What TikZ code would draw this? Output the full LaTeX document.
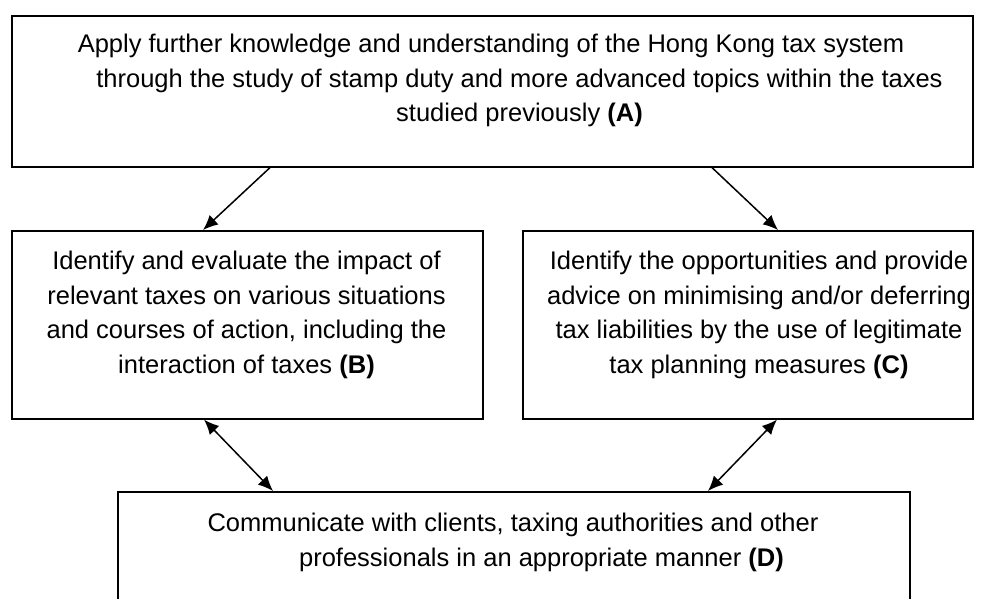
\documentclass[tikz,border=0pt]{standalone}
\usepackage{fontspec}
\setmainfont{Liberation Sans}
\usetikzlibrary{arrows.meta}
\newcommand{\shiftline}{\hspace*{57pt}}
\tikzset{
  aimbox/.style={draw=black, line width=1.6pt, rectangle, inner sep=0pt, anchor=north west},
  aimtext/.style={inner sep=0pt, anchor=north, align=center, font=\fontsize{25.5}{34.5}\selectfont},
  aimarrow/.style={line width=1.5pt, -{Latex[length=15pt,width=13pt]}},
  aimboth/.style={line width=1.5pt, {Latex[length=15pt,width=13pt]}-{Latex[length=15pt,width=13pt]}}
}
\begin{document}
\begin{tikzpicture}[x=1pt, y=-1pt]
\useasboundingbox (0,0) rectangle (985,599);
% boxes
\node[aimbox, minimum width=961pt, minimum height=151pt] (boxA) at (11,15) {};
\node[aimbox, minimum width=471pt, minimum height=188pt] (boxB) at (11,230) {};
\node[aimbox, minimum width=450pt, minimum height=188pt] (boxC) at (522,230) {};
\node[aimbox, minimum width=792pt, minimum height=112pt] (boxD) at (117,491) {};
% texts
\node[aimtext] (txtA) at (491,34) {Apply further knowledge and understanding of the Hong Kong tax system\\
  \shiftline through the study of stamp duty and more advanced topics within the taxes\\
  \shiftline studied previously \textbf{(A)}};
\node[aimtext] (txtB) at (246.5,251) {Identify and evaluate the impact of\\
  relevant taxes on various situations\\
  and courses of action, including the\\
  interaction of taxes \textbf{(B)}};
\node[aimtext] (txtC) at (759,251) {Identify the opportunities and provide\\
  advice on minimising and/or deferring\\
  tax liabilities by the use of legitimate\\
  tax planning measures \textbf{(C)}};
\node[aimtext] (txtD) at (513,513) {Communicate with clients, taxing authorities and other\\
  \shiftline professionals in an appropriate manner \textbf{(D)}};
% connectors
\draw[aimarrow] ([xshift=259pt]boxA.south west) -- ([xshift=192pt]boxB.north west);
\draw[aimarrow] ([xshift=701pt]boxA.south west) -- ([xshift=256pt]boxC.north west);
\draw[aimboth] ([xshift=193pt]boxB.south west) -- ([xshift=156pt]boxD.north west);
\draw[aimboth] ([xshift=255pt]boxC.south west) -- ([xshift=591pt]boxD.north west);
\end{tikzpicture}
\end{document}
